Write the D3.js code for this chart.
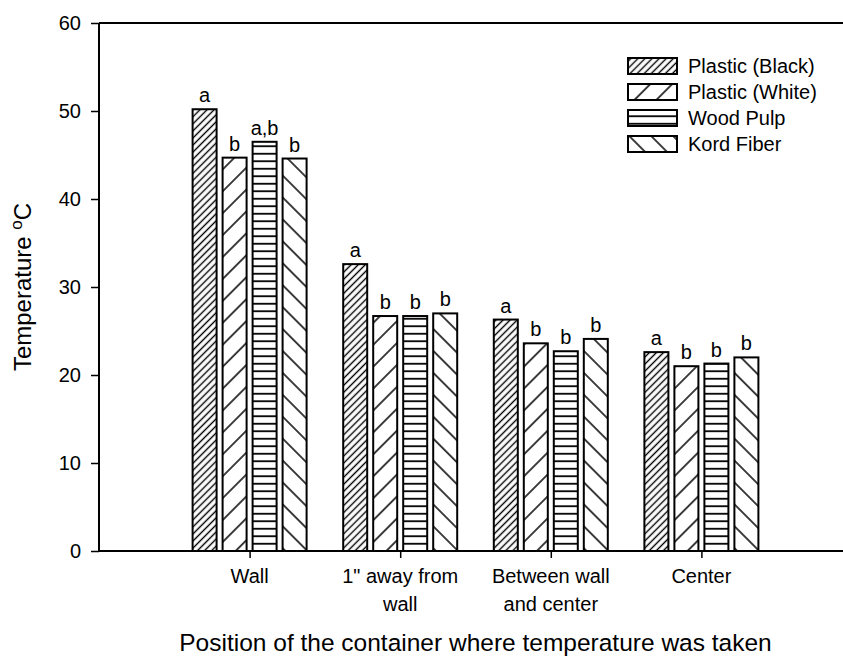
<!DOCTYPE html>
<html>
<head>
<meta charset="utf-8">
<script src="https://cdn.jsdelivr.net/npm/d3@7"></script>
<style>
  html, body { margin: 0; padding: 0; background: #fff; }
  svg { display: block; font-family: "Liberation Sans", Arial, sans-serif; }
</style>
</head>
<body>
<svg id="chart" width="843" height="656"></svg>
<script>
// Positions where temperature was measured (each label split into lines)
const categories = [["Wall"], ["1\" away from", "wall"], ["Between wall", "and center"], ["Center"]];
const seriesNames = ["Plastic (Black)", "Plastic (White)", "Wood Pulp", "Kord Fiber"];
// Mean temperature (°C) per container type at each position
const plasticBlack = [50.2, 32.6, 26.3, 22.6];
const plasticWhite = [44.7, 26.7, 23.6, 21.0];
const woodPulp     = [46.5, 26.7, 22.7, 21.3];
const kordFiber    = [44.6, 27.0, 24.1, 22.0];
// Significance letters
const lettersBlack = ["a", "a", "a", "a"];
const lettersWhite = ["b", "b", "b", "b"];
const lettersWood  = ["a,b", "b", "b", "b"];
const lettersKord  = ["b", "b", "b", "b"];
const yTicks = [0, 10, 20, 30, 40, 50, 60];

const series = [
  { name: seriesNames[0], values: plasticBlack, letters: lettersBlack, pat: "pBlack" },
  { name: seriesNames[1], values: plasticWhite, letters: lettersWhite, pat: "pWhite" },
  { name: seriesNames[2], values: woodPulp,     letters: lettersWood,  pat: "pWood" },
  { name: seriesNames[3], values: kordFiber,    letters: lettersKord,  pat: "pKord" }
];

const svg = d3.select("#chart");
const plotL = 99, plotT = 23, plotB = 551, plotR = 852;

// Hatch patterns
const defs = svg.append("defs");
function diag(id, spacing, angle, sw) {
  const p = defs.append("pattern").attr("id", id)
    .attr("patternUnits", "userSpaceOnUse")
    .attr("width", spacing).attr("height", spacing)
    .attr("patternTransform", `rotate(${angle})`);
  p.append("rect").attr("width", spacing).attr("height", spacing).attr("fill", "#fff");
  p.append("line").attr("x1", spacing / 2).attr("x2", spacing / 2)
    .attr("y1", 0).attr("y2", spacing)
    .attr("stroke", "#000").attr("stroke-width", sw);
}
diag("pBlack", 5, 45, 1.4);
diag("pWhite", 15.5, 45, 1.5);
diag("pKord", 15.5, -45, 1.5);
{
  const p = defs.append("pattern").attr("id", "pWood")
    .attr("patternUnits", "userSpaceOnUse")
    .attr("width", 10).attr("height", 7.5);
  p.append("rect").attr("width", 10).attr("height", 7.5).attr("fill", "#fff");
  p.append("line").attr("x1", 0).attr("x2", 10).attr("y1", 3.75).attr("y2", 3.75)
    .attr("stroke", "#000").attr("stroke-width", 1.8);
}

// Scales
const y = d3.scaleLinear().domain([0, 60]).range([plotB, plotT]);
const x = d3.scaleLinear().domain([0, 5]).range([plotL, plotR]);
const inner = d3.scaleBand().domain(d3.range(series.length)).range([-60, 60]).paddingInner(0.2).paddingOuter(0.1);

// Bars with significance letters
const groups = svg.append("g").selectAll("g")
  .data(categories.map((c, i) => i))
  .join("g")
  .attr("transform", i => `translate(${x(i + 1)},0)`);

groups.each(function (ci) {
  const g = d3.select(this);
  series.forEach((s, si) => {
    g.append("rect")
      .attr("x", inner(si))
      .attr("width", inner.bandwidth())
      .attr("y", y(s.values[ci]))
      .attr("height", y(0) - y(s.values[ci]))
      .attr("fill", `url(#${s.pat})`)
      .attr("stroke", "#000").attr("stroke-width", 2);
    g.append("text")
      .attr("x", inner(si) + inner.bandwidth() / 2)
      .attr("y", y(s.values[ci]) - 7)
      .attr("text-anchor", "middle")
      .attr("font-size", 20)
      .text(s.letters[ci]);
  });
});

// Y axis
const yAxis = svg.append("g").attr("transform", `translate(${plotL},0)`)
  .call(d3.axisLeft(y).tickValues(yTicks).tickSize(8).tickPadding(10));
yAxis.select(".domain").attr("stroke", "#000").attr("stroke-width", 2).attr("d", `M0,${plotB}V${plotT}`);
yAxis.selectAll(".tick line").attr("stroke", "#000").attr("stroke-width", 1.5);
yAxis.selectAll(".tick text").attr("font-size", 20).attr("fill", "#000")
  .attr("font-family", "'Liberation Sans', Arial, sans-serif");

// X axis
const xAxis = svg.append("g").attr("transform", `translate(0,${plotB})`)
  .call(d3.axisBottom(x).tickValues([1, 2, 3, 4]).tickSize(7).tickFormat(""));
xAxis.select(".domain").attr("stroke", "#000").attr("stroke-width", 2).attr("d", `M${plotL},0H${plotR}`);
xAxis.selectAll(".tick line").attr("stroke", "#000").attr("stroke-width", 1.5);

// Top frame line
svg.append("line").attr("x1", plotL).attr("x2", plotR).attr("y1", plotT).attr("y2", plotT)
  .attr("stroke", "#000").attr("stroke-width", 2);

// Category labels
categories.forEach((lines, i) => {
  const t = svg.append("text").attr("text-anchor", "middle").attr("font-size", 20);
  lines.forEach((ln, k) => {
    t.append("tspan").attr("x", x(i + 1)).attr("y", 583 + k * 28).text(ln);
  });
});

// Axis titles
svg.append("text").attr("x", (x(1) + x(4)) / 2).attr("y", 651).attr("text-anchor", "middle")
  .attr("font-size", 24.5).text("Position of the container where temperature was taken");

const yt = svg.append("text").attr("transform", `translate(31,${(plotT + plotB) / 2}) rotate(-90)`)
  .attr("text-anchor", "middle").attr("font-size", 24);
yt.append("tspan").text("Temperature ");
yt.append("tspan").attr("font-size", 17).attr("dy", -9).text("o");
yt.append("tspan").attr("dy", 9).text("C");

// Legend
const legend = svg.append("g");
series.forEach((s, i) => {
  const ly = 58 + i * 26;
  legend.append("rect").attr("x", 628).attr("y", ly).attr("width", 49).attr("height", 16)
    .attr("fill", `url(#${s.pat})`).attr("stroke", "#000").attr("stroke-width", 2);
  legend.append("text").attr("x", 688).attr("y", ly + 8).attr("dy", "0.36em")
    .attr("font-size", 20).text(s.name);
});
</script>
</body>
</html>
